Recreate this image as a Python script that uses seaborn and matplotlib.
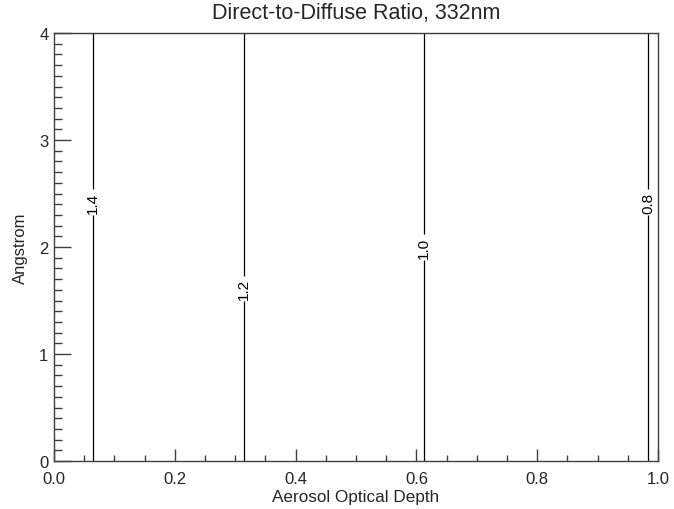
import numpy as np
import matplotlib
matplotlib.use("Agg")
import matplotlib.pyplot as plt
from matplotlib.ticker import MultipleLocator, FormatStrFormatter
import seaborn as sns

# Direct-to-diffuse irradiance ratio at 332 nm on an AOD x Angstrom grid
aod = [0.0, 0.1, 0.2, 0.3, 0.4, 0.5, 0.6, 0.7, 0.8, 0.9, 1.0]
angstrom = [0.0, 1.0, 2.0, 3.0, 4.0]
ratio_by_aod = [1.452, 1.372, 1.292, 1.212, 1.132, 1.065, 1.007, 0.948, 0.895, 0.845, 0.791]
levels = [0.8, 1.0, 1.2, 1.4]
label_at = [(0.065, 2.42), (0.315, 1.61), (0.611, 2.0), (0.984, 2.42)]

sns.set_theme(style="ticks")
plt.rcParams["font.family"] = ["Liberation Sans", "DejaVu Sans"]

fig = plt.figure(figsize=(6.74, 5.10), dpi=100)
ax = fig.add_axes([54 / 674, 1 - 462 / 510, 604 / 674, 428 / 510])

X, Y = np.meshgrid(aod, angstrom)
Z = np.tile(ratio_by_aod, (len(angstrom), 1))
cs = ax.contour(X, Y, Z, levels=levels, colors="black", linewidths=0.9)
labels = ax.clabel(cs, levels=levels, fmt="%.1f", inline=True, inline_spacing=2,
                   fontsize=11, manual=label_at)
# labels read bottom-to-top along the vertical contours
for t in labels:
    t.set_rotation(90)

ax.set_xlim(0, 1)
ax.set_ylim(0, 4)
ax.xaxis.set_major_locator(MultipleLocator(0.2))
ax.xaxis.set_minor_locator(MultipleLocator(0.05))
ax.yaxis.set_major_locator(MultipleLocator(1))
ax.yaxis.set_minor_locator(MultipleLocator(0.1))
ax.xaxis.set_major_formatter(FormatStrFormatter("%.1f"))

spine_color = "#404040"
for s in ax.spines.values():
    s.set_color(spine_color)
    s.set_linewidth(1.0)

ax.tick_params(axis="x", which="major", direction="in", length=8.5, width=1,
               color=spine_color, labelsize=12, pad=7, top=False)
ax.tick_params(axis="x", which="minor", direction="in", length=4.3, width=1,
               color=spine_color, top=False)
ax.tick_params(axis="y", which="major", direction="in", length=12, width=1,
               color=spine_color, labelsize=12, pad=4, right=False)
ax.tick_params(axis="y", which="minor", direction="in", length=6, width=1,
               color=spine_color, right=False)

ax.set_title("Direct-to-Diffuse Ratio, 332nm", fontsize=15.5, pad=11)
ax.set_xlabel("Aerosol Optical Depth", fontsize=12.3, labelpad=2.5)
ax.set_ylabel("Angstrom", fontsize=12, labelpad=8)

fig.savefig("out.png", dpi=100, facecolor="white")
